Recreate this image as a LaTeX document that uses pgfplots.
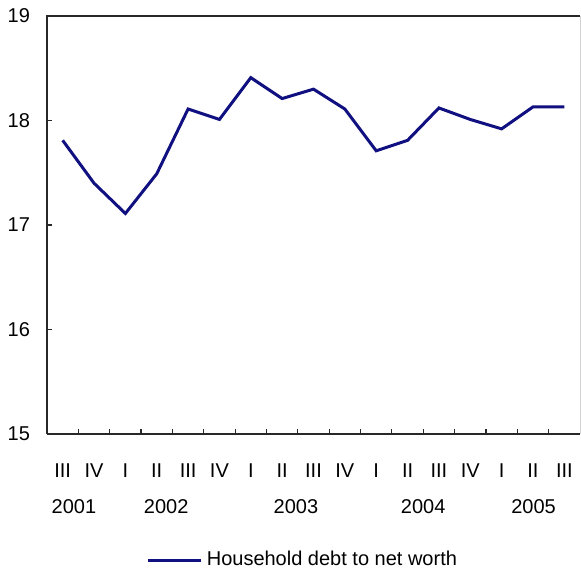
\documentclass[border=0pt]{standalone}
\usepackage{pgfplots}
\pgfplotsset{compat=1.18}
\usepackage{fontspec}
\setmainfont{Liberation Sans}
\definecolor{navyline}{RGB}{16,16,128}
\definecolor{frame}{RGB}{40,40,40}
\begin{document}
\begin{tikzpicture}
\path (0,0) rectangle (290.5pt,286pt);
\begin{axis}[
  at={(23.5pt,69pt)}, anchor=south west,
  scale only axis, width=266.5pt, height=209pt,
  xmin=-0.5, xmax=16.5, ymin=15, ymax=19,
  axis line style={draw=none},
  ytick={15,16,17,18,19},
  yticklabel style={anchor=east, xshift=-5pt, font=\fontsize{10}{12}\selectfont},
  /pgf/number format/assume math mode=true,
  xtick={0,...,16},
  xticklabels={III,IV,I,II,III,IV,I,II,III,IV,I,II,III,IV,I,II,III},
  xticklabel style={anchor=center, yshift=-18.5pt, font=\fontsize{10}{12}\selectfont},
  major x tick style={draw=none},
  minor xtick={0.5,1.5,...,15.5},
  minor tick length=2.5pt,
  major tick length=2.5pt,
  tick align=inside,
  tick style={frame, line width=0.6pt},
  xtick pos=bottom, ytick pos=left,
  clip=false,
  legend style={at={(0.482,0)}, anchor=center, yshift=-63pt, draw=none, fill=none,
    font=\fontsize{10}{12}\selectfont, inner sep=0pt},
  legend cell align=left,
  legend image code/.code={\draw[#1] (0pt,0pt) -- (26.5pt,0pt);},
]
\draw[frame, line width=1pt] (rel axis cs:0,0) -- (rel axis cs:0,1) -- (rel axis cs:1,1);
\draw[frame, line width=0.8pt] (rel axis cs:0,0) -- (rel axis cs:1,0);
\draw[gray!35, line width=0.5pt] (rel axis cs:1,1) -- (rel axis cs:1,0);
\addplot[navyline, line width=1.5pt, mark=none] coordinates {
(0,17.81) (1,17.40) (2,17.11) (3,17.49) (4,18.11) (5,18.01) (6,18.41) (7,18.21)
(8,18.30) (9,18.11) (10,17.71) (11,17.81) (12,18.12) (13,18.01) (14,17.92)
(15,18.13) (16,18.13)
};
\addlegendentry{Household debt to net worth}
\node[anchor=center, yshift=-36.5pt, font=\fontsize{10}{12}\selectfont] at (axis cs:0.36,15) {2001};
\node[anchor=center, yshift=-36.5pt, font=\fontsize{10}{12}\selectfont] at (axis cs:3.3,15) {2002};
\node[anchor=center, yshift=-36.5pt, font=\fontsize{10}{12}\selectfont] at (axis cs:7.44,15) {2003};
\node[anchor=center, yshift=-36.5pt, font=\fontsize{10}{12}\selectfont] at (axis cs:11.5,15) {2004};
\node[anchor=center, yshift=-36.5pt, font=\fontsize{10}{12}\selectfont] at (axis cs:15.02,15) {2005};
\end{axis}
\end{tikzpicture}
\end{document}
